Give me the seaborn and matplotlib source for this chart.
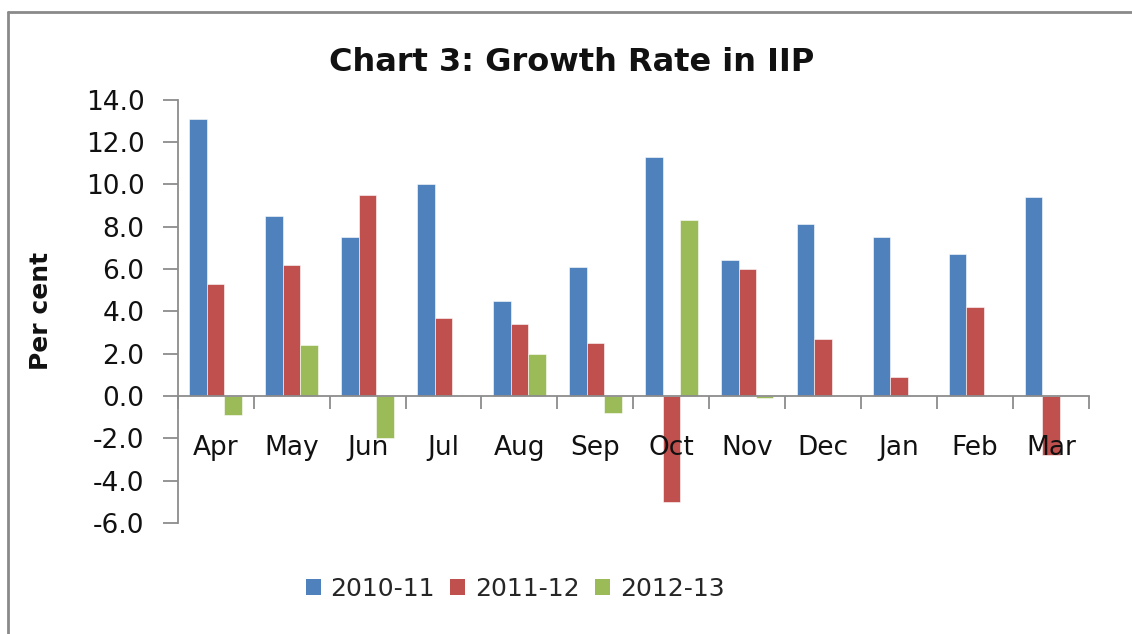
import numpy as np
import pandas as pd
import matplotlib
matplotlib.use("Agg")
import matplotlib.pyplot as plt
from matplotlib.lines import Line2D
import seaborn as sns

months = ["Apr", "May", "Jun", "Jul", "Aug", "Sep", "Oct", "Nov", "Dec", "Jan", "Feb", "Mar"]
series_names = ["2010-11", "2011-12", "2012-13"]
g_2010_11 = [13.1, 8.5, 7.5, 10.0, 4.5, 6.1, 11.3, 6.4, 8.1, 7.5, 6.7, 9.4]
g_2011_12 = [5.3, 6.2, 9.5, 3.7, 3.4, 2.5, -5.0, 6.0, 2.7, 0.9, 4.2, -2.8]
g_2012_13 = [-0.9, 2.4, -2.0, 0.0, 2.0, -0.8, 8.3, -0.1, np.nan, np.nan, np.nan, np.nan]
colors = ["#4F81BD", "#C0504D", "#9BBB59"]
y_ticks = [-6, -4, -2, 0, 2, 4, 6, 8, 10, 12, 14]

df = pd.DataFrame({
    "Month": months * 3,
    "Series": [s for s in series_names for _ in months],
    "Value": g_2010_11 + g_2011_12 + g_2012_13,
})

sns.set_theme(style="white")
plt.rcParams["font.family"] = ["DejaVu Sans"]

fig = plt.figure(figsize=(11.32, 6.34), dpi=100)
ax = fig.add_axes([0.157, 0.175, 0.805, 0.668])

sns.barplot(data=df, x="Month", y="Value", hue="Series", order=months,
            hue_order=series_names, palette=colors, width=0.69, gap=0,
            saturation=1, edgecolor="#ffffff", linewidth=0.4, ax=ax,
            legend=True)

ax.set_ylim(-6, 14)
ax.set_xlim(-0.5, len(months) - 0.5)
ax.set_yticks(y_ticks)
ax.set_yticklabels([f"{t:.1f}" for t in y_ticks], fontsize=19, color="#111111")

for side in ["top", "right"]:
    ax.spines[side].set_visible(False)
ax.spines["left"].set_color("#8c8c8c")
ax.spines["left"].set_linewidth(1.3)
ax.spines["bottom"].set_position(("data", 0))
ax.spines["bottom"].set_color("#8c8c8c")
ax.spines["bottom"].set_linewidth(1.3)
ax.spines["bottom"].set_zorder(6)

ax.tick_params(axis="y", direction="out", length=11, width=1.3, color="#8c8c8c", pad=13, left=True)
ax.set_xticks(np.arange(len(months)))
ax.set_xticklabels(months, fontsize=19, color="#111111")
ax.set_xticks(np.arange(-0.5, len(months) + 0.5, 1.0), minor=True)
ax.tick_params(axis="x", which="major", length=0, pad=28, bottom=True)
ax.tick_params(axis="x", which="minor", direction="out", length=9, width=1.3,
               color="#8c8c8c", bottom=True)
ax.xaxis.set_zorder(6)

ax.set_xlabel("")
ax.set_ylabel("Per cent", fontsize=18, fontweight="bold", color="#111111")
ax.yaxis.set_label_coords(-0.137, 0.5)

fig.text(0.505, 0.902, "Chart 3: Growth Rate in IIP", ha="center", va="center",
         fontsize=23, fontweight="bold", color="#111111")

leg = ax.legend(loc="center", bbox_to_anchor=(0.37, -0.155), ncol=3, frameon=False,
                fontsize=18, handlelength=0.6, handleheight=0.6, handletextpad=0.4,
                columnspacing=0.6)
for h in leg.legend_handles:
    h.set_edgecolor("none")

fig.add_artist(Line2D([8 / 1132, 1.0], [1 - 12 / 634, 1 - 12 / 634], color="#8a8a8a", lw=2))
fig.add_artist(Line2D([8 / 1132, 8 / 1132], [1 - 12 / 634, 0.0], color="#8a8a8a", lw=2))

fig.savefig("out.png", dpi=100)
